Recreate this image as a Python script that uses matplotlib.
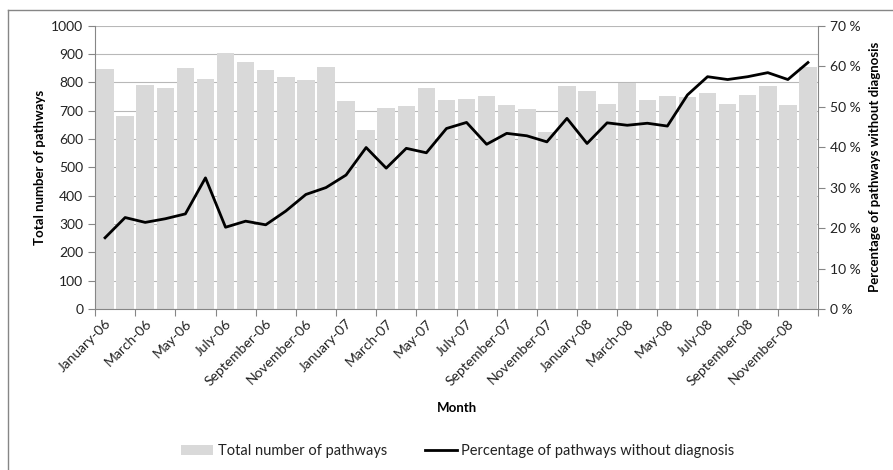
import matplotlib.pyplot as plt
from matplotlib.lines import Line2D
import numpy as np

plt.rcParams["font.family"] = ["Lato", "DejaVu Sans"]

months = ["January", "February", "March", "April", "May", "June", "July",
          "August", "September", "October", "November", "December"]
labels = [f"{m}-{y}" for y in ("06", "07", "08") for m in months]

total_pathways = [846, 682, 791, 781, 851, 812, 905, 873, 842, 819, 808, 855,
                  734, 632, 711, 716, 779, 736, 740, 753, 721, 706, 626, 788,
                  771, 724, 799, 736, 752, 749, 764, 724, 755, 786, 719, 855]

pct_no_diagnosis = [17.6, 22.6, 21.4, 22.3, 23.5, 32.4, 20.2, 21.7, 20.8, 24.2, 28.3, 30.0,
                    33.1, 39.9, 34.8, 39.7, 38.6, 44.6, 46.1, 40.7, 43.4, 42.8, 41.3, 47.1,
                    40.9, 46.0, 45.4, 45.9, 45.2, 52.9, 57.4, 56.7, 57.4, 58.4, 56.7, 60.9]

x = np.arange(len(labels))
axis_grey = "#868686"
text_col = "#222222"

fig = plt.figure(figsize=(8.93, 4.70), dpi=100)
ax = fig.add_axes([95 / 893, 1 - 309 / 470, (818 - 95) / 893, (309 - 25.7) / 470])

ax.bar(x, total_pathways, width=0.87, color="#d9d9d9", zorder=2,
       label="Total number of pathways")
ax.set_xlim(-0.5, len(labels) - 0.5)
ax.set_ylim(0, 1000)
ax.set_yticks(range(0, 1001, 100))
ax.yaxis.grid(True, color="#b8b8b8", lw=0.8, zorder=0)
ax.set_axisbelow(True)

# ticks sit on the category boundaries, labels on the category centres
ax.set_xticks(np.arange(-0.5, len(labels), 2))
ax.set_xticklabels([])
ax.set_xticks(x[::2], minor=True)
ax.set_xticklabels(labels[::2], minor=True, rotation=45, ha="right",
                   rotation_mode="anchor", fontsize=10, color=text_col)
ax.tick_params(axis="x", which="minor", length=0, pad=6)
ax.tick_params(axis="x", which="major", length=5, color=axis_grey, direction="out")
ax.tick_params(axis="y", length=5, color=axis_grey, labelsize=10, labelcolor=text_col)

for side in ("top", "right"):
    ax.spines[side].set_visible(False)
for side in ("left", "bottom"):
    ax.spines[side].set_color(axis_grey)

ax.set_ylabel("Total number of pathways", fontsize=9.5, fontweight="bold", labelpad=4)
ax.set_xlabel("Month", fontsize=9.5, fontweight="bold", labelpad=10)

ax2 = ax.twinx()
ax2.plot(x, pct_no_diagnosis, color="black", lw=2.0, zorder=3,
         label="Percentage of pathways without diagnosis")
ax2.set_ylim(0, 70)
ax2.set_yticks(range(0, 71, 10))
ax2.set_yticklabels([f"{v} %" for v in range(0, 71, 10)])
ax2.tick_params(axis="y", length=5, color=axis_grey, labelsize=10, labelcolor=text_col)
for side in ("top", "left", "bottom"):
    ax2.spines[side].set_visible(False)
ax2.spines["right"].set_color(axis_grey)
ax2.set_ylabel("Percentage of pathways without diagnosis", fontsize=9.5,
               fontweight="bold", labelpad=6)

handles = ax.get_legend_handles_labels()[0] + ax2.get_legend_handles_labels()[0]
names = ax.get_legend_handles_labels()[1] + ax2.get_legend_handles_labels()[1]
leg = fig.legend(handles, names, loc="center", bbox_to_anchor=(458 / 893, 1 - 451 / 470),
                 ncol=2, frameon=False, fontsize=10.5, handlelength=2.2,
                 handletextpad=0.3, columnspacing=2.6)
for t in leg.get_texts():
    t.set_color(text_col)

# chart area frame
fx, fy = 7.5 / 893, 1 - 9.5 / 470
fig.add_artist(Line2D([fx, 1], [fy, fy], color=axis_grey, lw=1))
fig.add_artist(Line2D([fx, fx], [0, fy], color=axis_grey, lw=1))

fig.savefig("out.png", dpi=100)
